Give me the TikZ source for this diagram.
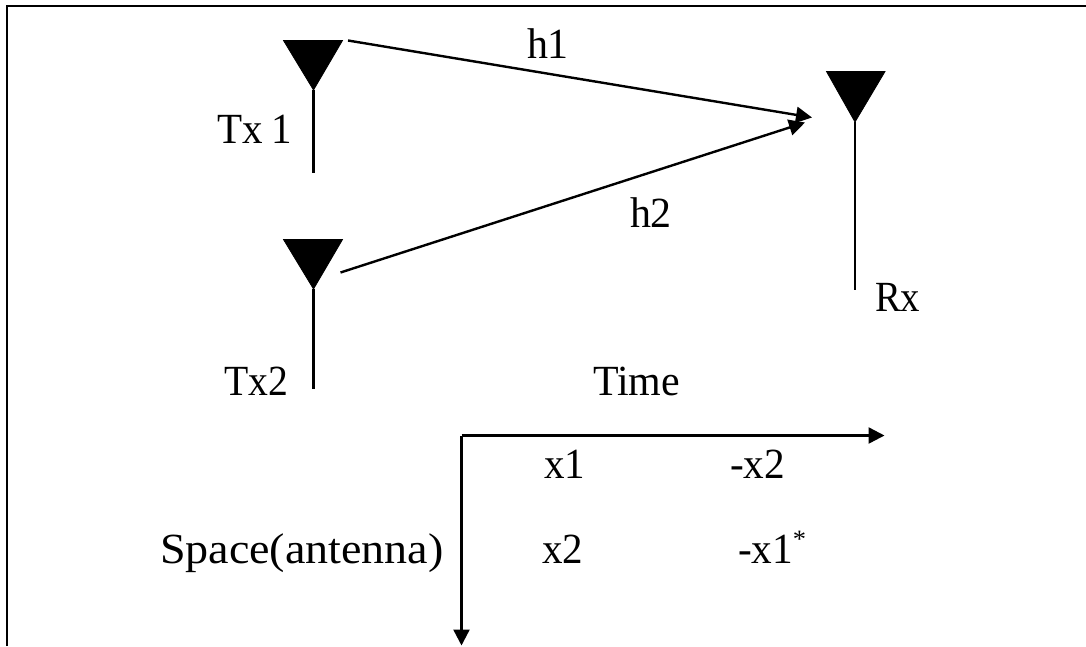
\documentclass[tikz,border=0pt]{standalone}
\usepackage{graphicx}
\usepackage{fontspec}
\setmainfont[FakeStretch=1.06]{Liberation Serif}
\usetikzlibrary{arrows.meta}
\tikzset{
  lbl/.style={inner sep=0pt,outer sep=0pt,anchor=base west,font=\fontsize{43}{50}\selectfont},
  wire/.style={line width=2.2pt,black},
  arrowline/.style={line width=2.4pt,black,-{Triangle[length=16pt,width=16pt]}},
  ant/.style={fill=black,draw=black,line width=0.8pt,line join=miter}
}
\begin{document}
\begin{tikzpicture}[x=1pt,y=-1pt]
\useasboundingbox (0,0) rectangle (1086,646);
\fill[white] (0,0) rectangle (1086,646);
% frame: only the left and top edges are visible
\coordinate (fbl) at (7,646);
\coordinate (ftl) at (7,5.8);
\coordinate (ftr) at (1086,5.8);
\draw[wire,line cap=butt] (fbl) -- (ftl) -- (ftr);
% antennas
\coordinate (t1a) at (283.5,40.5); \coordinate (t1b) at (342.5,40.5); \coordinate (t1c) at (313.5,90); \coordinate (t1d) at (313.5,173);
\coordinate (t2a) at (283.5,239.5); \coordinate (t2b) at (342.5,239.5); \coordinate (t2c) at (313.5,289); \coordinate (t2d) at (313.5,389);
\coordinate (rxa) at (826.5,71.5); \coordinate (rxb) at (885,71.5); \coordinate (rxc) at (855,122); \coordinate (rxd) at (855,290);
\draw[ant] (t1a) -- (t1b) -- (t1c) -- cycle;
\draw[ant] (t2a) -- (t2b) -- (t2c) -- cycle;
\draw[ant] (rxa) -- (rxb) -- (rxc) -- cycle;
\draw[wire] (t1c) -- (t1d);
\draw[wire] (t2c) -- (t2d);
\draw[wire] (rxc) -- (rxd);
% links
\coordinate (h1s) at (348,40.5); \coordinate (h1e) at (812,117.5);
\coordinate (h2s) at (340.5,272.5); \coordinate (h2e) at (805,122.5);
\draw[arrowline] (h1s) -- (h1e);
\draw[arrowline] (h2s) -- (h2e);
% axes
\coordinate (o) at (461.5,435.5); \coordinate (tax) at (884.5,435.5); \coordinate (sax) at (461.5,645.5);
\draw[arrowline] (o) -- (tax);
\draw[arrowline] (o) -- (sax);
% labels
\node[lbl] (lh1) at (527,58) {\scalebox{.92}[1]{h1}};
\node[lbl] (lh2) at (630,227) {\scalebox{.92}[1]{h2}};
\node[lbl] (ltx1) at (217,143) {\scalebox{.9}[1]{Tx\hspace{-1pt} 1}};
\node[lbl] (ltx2) at (224,395) {\scalebox{.87}[1]{Tx2}};
\node[lbl] (lrx) at (875,311) {\scalebox{.85}[1]{Rx}};
\node[lbl] (ltime) at (593,395) {\scalebox{.92}[1]{Time}};
\node[lbl] (lx1) at (544,478) {\scalebox{.9}[1]{x1}};
\node[lbl] (lmx2) at (730,478) {\scalebox{.905}[1]{-x2}};
\node[lbl] (lx2) at (542,563) {\scalebox{.9}[1]{x2}};
\node[lbl] (lmx1) at (738,563) {\scalebox{.905}[1]{-x1}\raisebox{0.36em}{\fontsize{25}{30}\selectfont *}};
\node[lbl] (lsp) at (160,563) {\scalebox{1.01}[1]{Space(antenna)}};
\end{tikzpicture}
\end{document}
